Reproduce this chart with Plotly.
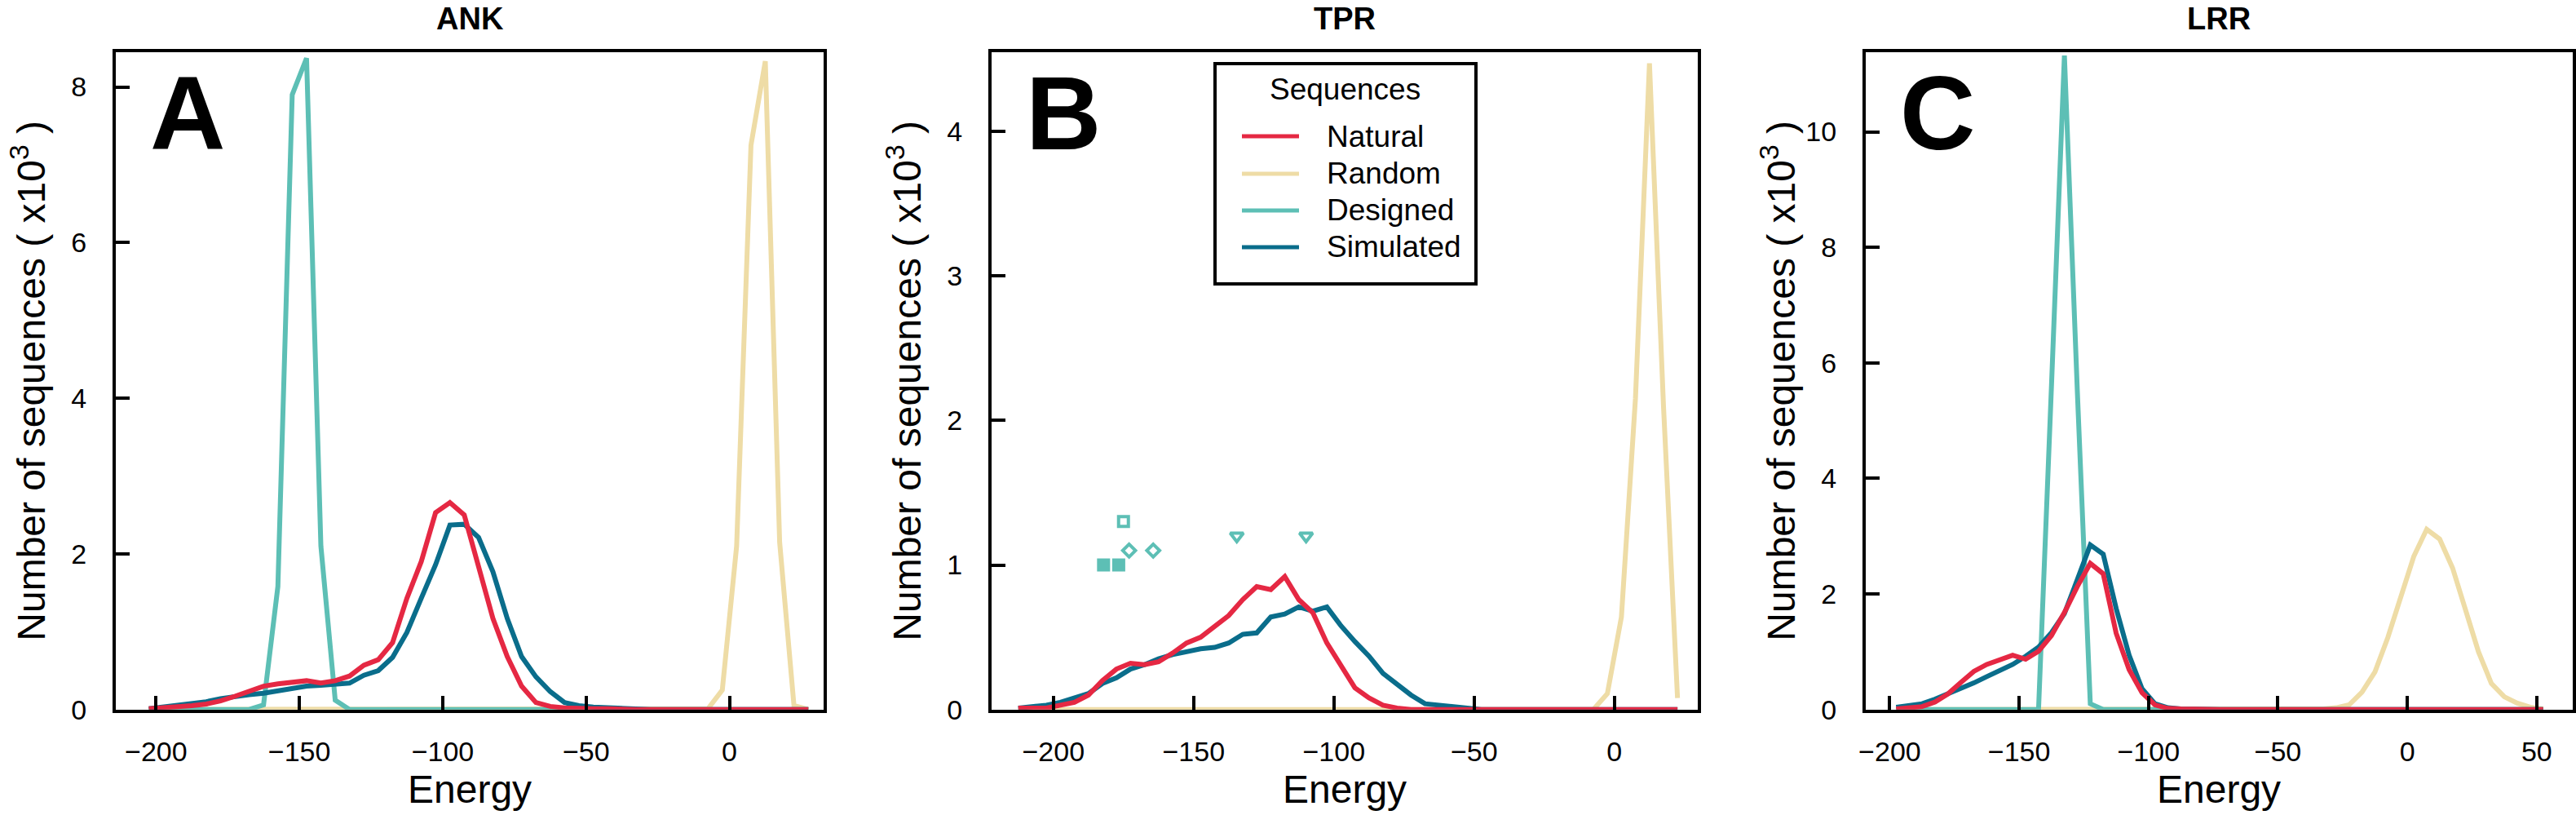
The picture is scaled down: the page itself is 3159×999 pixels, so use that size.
import plotly.graph_objects as go

# ---------------- DATA ----------------
series_names = ["Natural", "Random", "Designed", "Simulated"]
panel_titles = ["ANK", "TPR", "LRR"]
panel_letters = ["A", "B", "C"]

# ANK (panel A) histogram bin centres (energy) and counts (x10^3)
ank_energy = [-202.5, -197.5, -192.5, -187.5, -182.5, -177.5, -172.5, -167.5, -162.5, -157.5,
              -152.5, -147.5, -142.5, -137.5, -132.5, -127.5, -122.5, -117.5, -112.5, -107.5,
              -102.5, -97.5, -92.5, -87.5, -82.5, -77.5, -72.5, -67.5, -62.5, -57.5,
              -52.5, -47.5, -42.5, -37.5, -32.5, -27.5, -22.5, -17.5, -12.5, -7.5,
              -2.5, 2.5, 7.5, 12.5, 17.5, 22.5, 27.5]
ank_natural = [0.01, 0.02, 0.03, 0.05, 0.07, 0.11, 0.17, 0.23, 0.30, 0.33,
               0.35, 0.37, 0.34, 0.37, 0.43, 0.57, 0.64, 0.86, 1.43, 1.90,
               2.53, 2.66, 2.50, 1.86, 1.17, 0.68, 0.30, 0.09, 0.04, 0.02,
               0.01, 0.01, 0.01, 0, 0, 0, 0, 0, 0, 0,
               0, 0, 0, 0, 0, 0, 0]
ank_random = [0, 0, 0, 0, 0, 0, 0, 0, 0, 0,
              0, 0, 0, 0, 0, 0, 0, 0, 0, 0,
              0, 0, 0, 0, 0, 0, 0, 0, 0, 0,
              0, 0, 0, 0, 0, 0, 0, 0, 0, 0.01,
              0.25, 2.10, 7.25, 8.33, 2.15, 0.05, 0]
ank_designed = [0, 0, 0, 0, 0, 0, 0, 0, 0.06, 1.58,
                7.90, 8.37, 2.10, 0.12, 0, 0, 0, 0, 0, 0,
                0, 0, 0, 0, 0, 0, 0, 0, 0, 0,
                0, 0, 0, 0, 0, 0, 0, 0, 0, 0,
                0, 0, 0, 0, 0, 0, 0]
ank_simulated = [0.01, 0.03, 0.05, 0.08, 0.10, 0.14, 0.17, 0.19, 0.21, 0.24,
                 0.28, 0.30, 0.31, 0.32, 0.34, 0.44, 0.50, 0.67, 0.99, 1.43,
                 1.86, 2.37, 2.38, 2.21, 1.77, 1.17, 0.68, 0.42, 0.23, 0.09,
                 0.05, 0.03, 0.02, 0.01, 0, 0, 0, 0, 0, 0,
                 0, 0, 0, 0, 0, 0, 0]

# TPR (panel B)
tpr_energy = [-212.5, -207.5, -202.5, -197.5, -192.5, -187.5, -182.5, -177.5, -172.5, -167.5,
              -162.5, -157.5, -152.5, -147.5, -142.5, -137.5, -132.5, -127.5, -122.5, -117.5,
              -112.5, -107.5, -102.5, -97.5, -92.5, -87.5, -82.5, -77.5, -72.5, -67.5,
              -62.5, -57.5, -52.5, -47.5, -42.5, -37.5, -32.5, -27.5, -22.5, -17.5,
              -12.5, -7.5, -2.5, 2.5, 7.5, 12.5, 17.5, 22.5]
tpr_natural = [0.01, 0.01, 0.01, 0.03, 0.05, 0.10, 0.20, 0.28, 0.32, 0.31,
               0.33, 0.39, 0.46, 0.50, 0.57, 0.65, 0.76, 0.85, 0.83, 0.92,
               0.76, 0.67, 0.46, 0.31, 0.15, 0.08, 0.03, 0.01, 0, 0,
               0, 0, 0, 0, 0, 0, 0, 0, 0, 0,
               0, 0, 0, 0, 0, 0, 0, 0]
tpr_random = [0, 0, 0, 0, 0, 0, 0, 0, 0, 0,
              0, 0, 0, 0, 0, 0, 0, 0, 0, 0,
              0, 0, 0, 0, 0, 0, 0, 0, 0, 0,
              0, 0, 0, 0, 0, 0, 0, 0, 0, 0,
              0, 0, 0.11, 0.64, 2.15, 4.47, 2.10, 0.08]
tpr_simulated = [0.01, 0.02, 0.03, 0.05, 0.08, 0.11, 0.18, 0.22, 0.28, 0.31,
                 0.35, 0.38, 0.40, 0.42, 0.43, 0.46, 0.52, 0.53, 0.64, 0.66,
                 0.71, 0.68, 0.71, 0.58, 0.47, 0.37, 0.25, 0.17, 0.10, 0.04,
                 0.03, 0.02, 0.01, 0, 0, 0, 0, 0, 0, 0,
                 0, 0, 0, 0, 0, 0, 0, 0]
# individual designed TPR proteins
tpr_designed_energy = [-182.1, -176.7, -175.0, -173.0, -164.4, -134.6, -109.9]
tpr_designed_count = [1.0, 1.0, 1.3, 1.1, 1.1, 1.2, 1.2]
tpr_designed_symbol = ["square", "square", "square-open", "diamond-open", "diamond-open",
                       "triangle-down-open", "triangle-down-open"]

# LRR (panel C)
lrr_energy = [-197.5, -192.5, -187.5, -182.5, -177.5, -172.5, -167.5, -162.5, -157.5, -152.5,
              -147.5, -142.5, -137.5, -132.5, -127.5, -122.5, -117.5, -112.5, -107.5, -102.5,
              -97.5, -92.5, -87.5, -82.5, -77.5, -72.5, -67.5, -62.5, -57.5, -52.5,
              -47.5, -42.5, -37.5, -32.5, -27.5, -22.5, -17.5, -12.5, -7.5, -2.5,
              2.5, 7.5, 12.5, 17.5, 22.5, 27.5, 32.5, 37.5, 42.5, 47.5, 52.5]
lrr_natural = [0.01, 0.02, 0.05, 0.13, 0.27, 0.47, 0.66, 0.78, 0.87, 0.94,
               0.87, 1.01, 1.28, 1.68, 2.13, 2.53, 2.35, 1.32, 0.69, 0.29,
               0.08, 0.02, 0.01, 0, 0, 0, 0, 0, 0, 0,
               0, 0, 0, 0, 0, 0, 0, 0, 0, 0,
               0, 0, 0, 0, 0, 0, 0, 0, 0, 0, 0]
lrr_random = [0, 0, 0, 0, 0, 0, 0, 0, 0, 0,
              0, 0, 0, 0, 0, 0, 0, 0, 0, 0,
              0, 0, 0, 0, 0, 0, 0, 0, 0, 0,
              0, 0, 0, 0.01, 0.03, 0.08, 0.30, 0.65, 1.25, 1.95,
              2.65, 3.12, 2.95, 2.45, 1.70, 1.00, 0.45, 0.22, 0.11, 0.04, 0.01]
lrr_designed = [0, 0, 0, 0, 0, 0, 0, 0, 0, 0,
                0, 0, 5.6, 11.32, 5.5, 0.10, 0, 0, 0, 0,
                0, 0, 0, 0, 0, 0, 0, 0, 0, 0,
                0, 0, 0, 0, 0, 0, 0, 0, 0, 0,
                0, 0, 0, 0, 0, 0, 0, 0, 0, 0, 0]
lrr_simulated = [0.04, 0.06, 0.10, 0.18, 0.27, 0.37, 0.46, 0.57, 0.67, 0.78,
                 0.92, 1.08, 1.33, 1.66, 2.25, 2.85, 2.69, 1.75, 0.94, 0.36,
                 0.10, 0.03, 0.01, 0, 0, 0, 0, 0, 0, 0,
                 0, 0, 0, 0, 0, 0, 0, 0, 0, 0,
                 0, 0, 0, 0, 0, 0, 0, 0, 0, 0, 0]

x_ticks = [[-200, -150, -100, -50, 0], [-200, -150, -100, -50, 0], [-200, -150, -100, -50, 0, 50]]
y_ticks = [[0, 2, 4, 6, 8], [0, 1, 2, 3, 4], [0, 2, 4, 6, 8, 10]]

# ---------------- STYLE / LAYOUT ----------------
W, H = 3159, 999
FONT = "Liberation Sans, Arial, Helvetica, sans-serif"
colors = {"Natural": "#E52843", "Random": "#EEDCA6", "Designed": "#5DBFB5", "Simulated": "#0A6D8B"}
LW_DATA = 6
AX_LW = 4

# pixel boxes (line centres) and axis ranges at those line centres
boxes = [(140.0, 1012.0), (1214.0, 2084.0), (2286.0, 3156.5)]
box_top, box_bot = 61.7, 871.7
x_ranges = [(-214.6, 33.4), (-222.6, 30.3), (-209.9, 64.4)]
y_tops = [8.47, 4.56, 11.41]

panels = [
    dict(energy=ank_energy, Natural=ank_natural, Random=ank_random, Designed=ank_designed,
         Simulated=ank_simulated),
    dict(energy=tpr_energy, Natural=tpr_natural, Random=tpr_random, Designed=None,
         Simulated=tpr_simulated),
    dict(energy=lrr_energy, Natural=lrr_natural, Random=lrr_random, Designed=lrr_designed,
         Simulated=lrr_simulated),
]
draw_order = ["Random", "Designed", "Simulated", "Natural"]

fig = go.Figure()
layout = dict(width=W, height=H, autosize=False,
              margin=dict(l=0, r=0, t=0, b=0, pad=0, autoexpand=False),
              paper_bgcolor="white", plot_bgcolor="white", showlegend=False,
              font=dict(family=FONT, color="black"))
annotations = []
shapes = []

half = AX_LW / 2.0
for i, p in enumerate(panels):
    xa = "x" if i == 0 else f"x{i+1}"
    ya = "y" if i == 0 else f"y{i+1}"
    l, r = boxes[i]
    x0, x1 = x_ranges[i]
    upx = (x1 - x0) / (r - l)
    upy = y_tops[i] / (box_bot - box_top)
    xdom = [(l + half) / W, (r - half) / W]
    ydom = [1 - (box_bot - half) / H, 1 - (box_top + half) / H]
    xr = [x0 + upx * half, x1 - upx * half]
    yr = [0, y_tops[i] - upy * half]

    for name in draw_order:
        vals = p[name]
        if vals is None:
            continue
        fig.add_trace(go.Scatter(x=p["energy"], y=vals, mode="lines", name=name,
                                 line=dict(color=colors[name], width=LW_DATA),
                                 xaxis=xa, yaxis=ya, showlegend=False, hoverinfo="skip",
                                 cliponaxis=True))
    if i == 1:
        sym_size = {"square": 16, "square-open": 12, "diamond-open": 12, "triangle-down-open": 14}
        sym_lw = {"square": 0, "square-open": 4, "diamond-open": 4, "triangle-down-open": 4}
        for sym in ["square", "square-open", "diamond-open", "triangle-down-open"]:
            xs = [e for e, s in zip(tpr_designed_energy, tpr_designed_symbol) if s == sym]
            ys = [c for c, s in zip(tpr_designed_count, tpr_designed_symbol) if s == sym]
            fig.add_trace(go.Scatter(x=xs, y=ys, mode="markers", name="Designed",
                                     marker=dict(symbol=sym, size=sym_size[sym], color=colors["Designed"],
                                                 line=dict(color=colors["Designed"], width=sym_lw[sym])),
                                     xaxis=xa, yaxis=ya, showlegend=False, hoverinfo="skip"))

    axis_common = dict(showline=True, mirror=True, linecolor="black", linewidth=AX_LW,
                       showgrid=False, zeroline=False, ticks="inside", ticklen=17, tickwidth=4,
                       tickcolor="black", automargin=False,
                       tickfont=dict(family=FONT, size=34, color="black"))
    layout["xaxis" if i == 0 else f"xaxis{i+1}"] = dict(
        domain=xdom, range=xr, tickmode="array", tickvals=x_ticks[i],
        anchor=ya, ticklabelstandoff=18, **axis_common)
    layout["yaxis" if i == 0 else f"yaxis{i+1}"] = dict(
        domain=ydom, range=yr, tickmode="array", tickvals=y_ticks[i],
        anchor=xa, ticklabelstandoff=25, **axis_common)

    cx = (l + r) / 2 / W
    # panel title
    annotations.append(dict(text=f"<b>{panel_titles[i]}</b>", x=cx, y=1.0, xref="paper", yref="paper",
                            xanchor="center", yanchor="top", showarrow=False,
                            font=dict(family=FONT, size=38, color="black")))
    # x title
    annotations.append(dict(text="Energy", x=cx, y=1 - 967 / H, xref="paper", yref="paper",
                            xanchor="center", yanchor="middle", showarrow=False,
                            font=dict(family=FONT, size=48, color="black")))
    # y title
    annotations.append(dict(text="Number of sequences ( x10<sup>3</sup> )", x=(l - 105) / W,
                            y=1 - (box_top + box_bot) / 2 / H, xref="paper", yref="paper",
                            xanchor="center", yanchor="middle", textangle=-90, showarrow=False,
                            font=dict(family=FONT, size=48, color="black")))
    # panel letter
    annotations.append(dict(text=f"<b>{panel_letters[i]}</b>", x=(l + 90) / W, y=1 - 139 / H,
                            xref="paper", yref="paper", xanchor="center", yanchor="middle",
                            showarrow=False, font=dict(family=FONT, size=128, color="black")))

# ---- legend (in panel B) ----
leg_l, leg_r, leg_t, leg_b = 1490, 1810, 78, 348
shapes.append(dict(type="rect", xref="paper", yref="paper", x0=leg_l / W, x1=leg_r / W,
                   y0=1 - leg_b / H, y1=1 - leg_t / H, line=dict(color="black", width=4),
                   fillcolor="white", layer="above"))
annotations.append(dict(text="Sequences", x=(leg_l + leg_r) / 2 / W, y=1 - 110 / H, xref="paper",
                        yref="paper", xanchor="center", yanchor="middle", showarrow=False,
                        font=dict(family=FONT, size=37, color="black")))
row_y = [167, 213, 258, 303]
for name, yy in zip(series_names, row_y):
    shapes.append(dict(type="line", xref="paper", yref="paper", x0=1523 / W, x1=1593 / W,
                       y0=1 - yy / H, y1=1 - yy / H, line=dict(color=colors[name], width=5),
                       layer="above"))
    annotations.append(dict(text=name, x=1625 / W, y=1 - yy / H, xref="paper", yref="paper",
                            xanchor="left", yanchor="middle", showarrow=False,
                            font=dict(family=FONT, size=37, color="black")))

layout["annotations"] = annotations
layout["shapes"] = shapes
fig.update_layout(**layout)
fig.write_html("out.html")
